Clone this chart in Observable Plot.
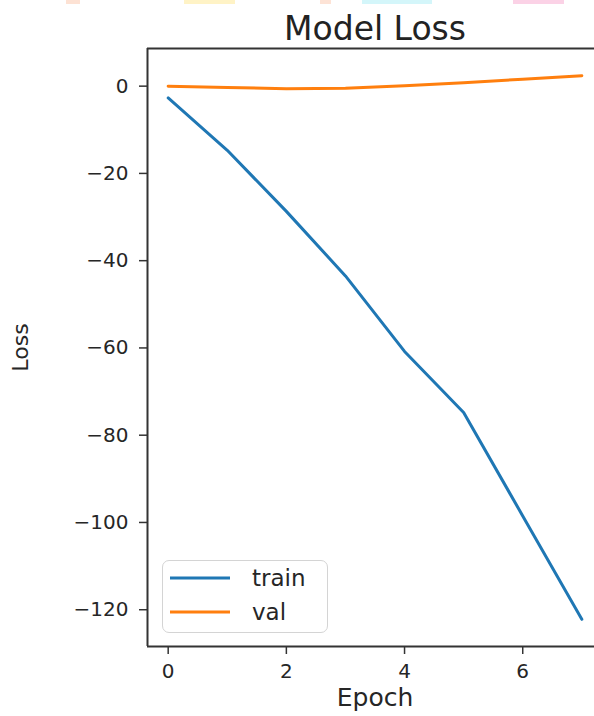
<!DOCTYPE html>
<html><head><meta charset="utf-8">
<script src="https://cdn.jsdelivr.net/npm/d3@7"></script>
<script src="https://cdn.jsdelivr.net/npm/@observablehq/plot@0.6"></script>
<style>
html,body{margin:0;padding:0;background:#fff;overflow:hidden;}
#wrap{position:relative;width:594px;height:716px;overflow:hidden;font-family:"DejaVu Sans",sans-serif;background:#fff;}
#wrap svg{display:block;}
#legend{position:absolute;left:162px;top:560px;width:166px;height:73px;box-sizing:border-box;border:1.5px solid #d4d4d4;border-radius:7px;background:rgba(255,255,255,0.85);}
.lg-row{position:absolute;left:0;height:30px;display:flex;align-items:center;}
.lg-row svg{margin-left:7px;}
.lg-row span{margin-left:22px;font-size:23px;color:#262626;font-family:"DejaVu Sans",sans-serif;}
.blob{position:absolute;top:0;height:4px;}
</style></head><body><div id="wrap"></div>
<script>
const title = "Model Loss";
const xLabel = "Epoch";
const yLabel = "Loss";
const epochs = [0, 1, 2, 3, 4, 5, 6, 7];
const trainLoss = [-2.7, -14.7, -28.7, -43.5, -60.8, -74.8, -98.5, -122.2];
const valLoss = [0.0, -0.3, -0.6, -0.5, 0.1, 0.8, 1.6, 2.4];
const seriesNames = ["train", "val"];
const seriesColors = ["#1f77b4", "#ff7f0e"];
const xTicks = [0, 2, 4, 6];
const yTicks = [0, -20, -40, -60, -80, -100, -120];
const blobColors = ["#fde2d4", "#fff3c6", "#fde3d6", "#d4f6fa", "#fbd2e6"];
const blobSpans = [[66, 80], [184, 235], [320, 331], [362, 432], [513, 564]];

const seriesValues = [trainLoss, valLoss];
const rows = [];
seriesNames.forEach((s, k) => epochs.forEach((e, i) => rows.push({epoch: e, loss: seriesValues[k][i], series: s})));

function pad(ext, f = 0.05) { const d = (ext[1] - ext[0]) * f; return [ext[0] - d, ext[1] + d]; }
const xDom = pad(d3.extent(epochs));
const yDom = pad(d3.extent([...trainLoss, ...valLoss]));
const font = '"DejaVu Sans", sans-serif';

const chart = Plot.plot({
  width: 594, height: 716,
  marginLeft: 147, marginRight: -8, marginTop: 48, marginBottom: 70,
  style: {fontFamily: font, fontSize: "20px", color: "#262626", background: "transparent", maxWidth: "none", overflow: "hidden"},
  x: {domain: xDom},
  y: {domain: yDom},
  color: {domain: seriesNames, range: seriesColors},
  marks: [
    Plot.axisX({ticks: xTicks, tickSize: 8, tickPadding: 9, fontSize: 20, label: null, stroke: "#333", strokeWidth: 1.5, fill: "#262626"}),
    Plot.axisY({ticks: yTicks, tickSize: 8, tickPadding: 11, fontSize: 20, tickFormat: d3.format("d"), label: null, stroke: "#333", strokeWidth: 1.5, fill: "#262626"}),
    Plot.text([xLabel], {text: d => d, frameAnchor: "bottom", lineAnchor: "top", dy: 42, fontSize: 25, fill: "#262626"}),
    Plot.text([yLabel], {text: d => d, frameAnchor: "left", rotate: -90, textAnchor: "middle", lineAnchor: "top", dx: -135, fontSize: 22, fill: "#262626"}),
    Plot.line(rows, {x: "epoch", y: "loss", z: "series", stroke: "series", strokeWidth: 3}),
    Plot.ruleX([xDom[0]], {stroke: "#333", strokeWidth: 2}),
    Plot.ruleY([yDom[0], yDom[1]], {stroke: "#333", strokeWidth: 2}),
    Plot.text([title], {text: d => d, frameAnchor: "top", lineAnchor: "bottom", dy: -9, fontSize: 33, fill: "#222"})
  ]
});
const wrap = document.getElementById("wrap");
wrap.appendChild(chart);

blobSpans.forEach((s, i) => {
  const b = document.createElement("div");
  b.className = "blob";
  b.style.left = s[0] + "px"; b.style.width = (s[1] - s[0]) + "px"; b.style.background = blobColors[i];
  wrap.appendChild(b);
});

const legend = document.createElement("div");
legend.id = "legend";
seriesNames.forEach((s, i) => {
  const row = document.createElement("div");
  row.className = "lg-row";
  row.style.top = (2 + i * 34) + "px";
  row.innerHTML = `<svg width="60" height="6"><line x1="0" y1="3" x2="60" y2="3" stroke="${seriesColors[i]}" stroke-width="3"/></svg><span>${s}</span>`;
  legend.appendChild(row);
});
wrap.appendChild(legend);
</script></body></html>
